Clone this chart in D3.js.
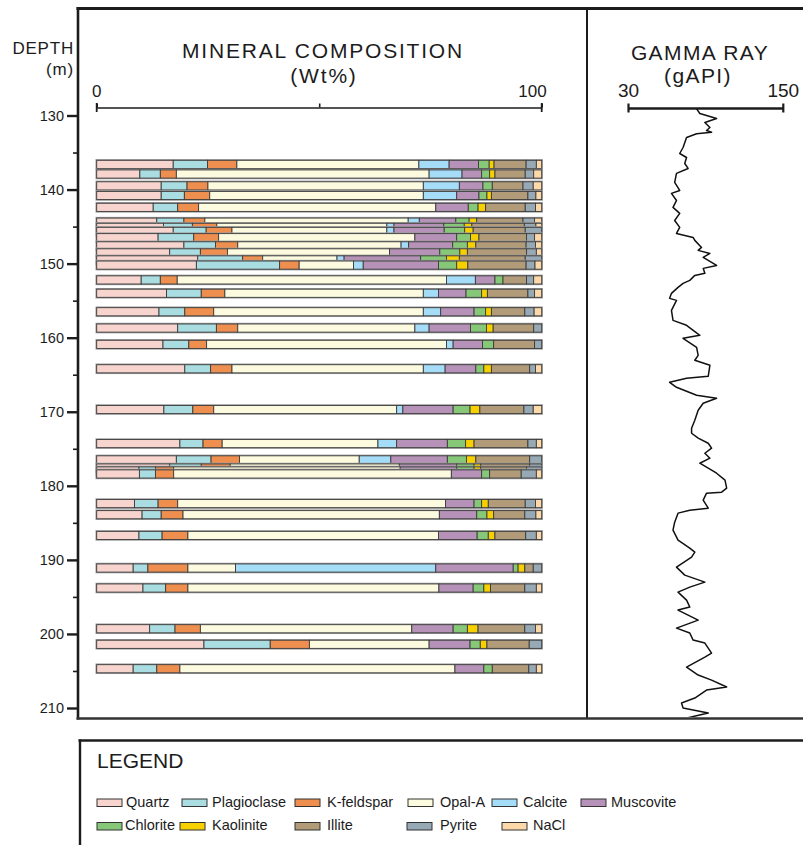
<!DOCTYPE html>
<html>
<head>
<meta charset="utf-8">
<script src="https://cdn.jsdelivr.net/npm/d3@7"></script>
<style>
  html, body { margin: 0; padding: 0; background: #fff; }
  svg { display: block; font-family: "Liberation Sans", Arial, sans-serif; }
</style>
</head>
<body>
<svg id="chart" width="803" height="845"></svg>
<script>
// Sample depths (m) — bar centre
const depths = [136.6,137.9,139.5,140.8,142.4,144.4,145.1,145.65,146.5,147.6,148.55,149.5,150.2,152.2,154.0,156.5,158.7,160.9,164.2,169.7,174.3,176.5,177.6,178.0,178.4,182.4,183.9,186.7,191.1,193.8,199.3,201.4,204.7];

// Mineral contents (Wt%) per sample
const quartz      = [17.2,9.7,14.5,14.5,12.7,13.5,15.0,17.2,13.8,19.6,16.4,22.7,22.4,10.0,15.7,14.0,18.2,14.9,19.8,15.1,18.7,17.9,16.4,9.5,9.6,8.5,10.2,9.5,8.2,10.4,11.9,24.1,8.2];
const plagioclase = [7.7,4.6,5.8,5.2,5.5,6.1,6.5,7.4,8.0,7.1,6.9,10.1,18.7,4.3,7.8,5.8,8.7,5.8,5.8,6.5,5.2,7.8,7.1,3.7,3.6,5.3,4.3,5.2,3.3,5.1,5.7,14.9,5.3];
const kfeldspar   = [6.6,3.6,4.7,5.7,4.7,4.7,5.5,5.8,5.6,5.0,6.1,4.5,4.4,3.8,5.3,6.5,4.8,4.0,4.8,4.7,4.3,6.4,6.5,4.1,4.1,4.4,4.9,5.8,9.0,5.0,5.7,8.8,5.2];
const opalA       = [40.9,56.8,48.4,48.0,53.3,45.7,38.2,34.8,44.1,36.7,36.4,16.7,12.2,60.5,44.6,47.1,39.8,53.9,43.0,41.1,35.0,26.9,38.0,50.9,62.4,60.2,57.6,56.3,10.7,56.4,47.5,26.9,61.8];
const calcite     = [6.8,7.4,8.1,7.5,0,2.5,1.6,1.6,0,1.7,0,1.6,2.2,6.5,3.4,3.9,3.2,1.5,4.9,1.4,4.2,7.1,0,0,0,0,0,0,45.0,0,0,0,0];
const muscovite   = [6.6,4.4,5.3,5.0,7.3,8.2,11.2,11.3,9.4,9.9,11.3,17.2,16.9,4.4,6.2,7.5,9.3,6.6,6.9,11.3,11.4,12.7,12.9,12.7,6.8,6.4,8.4,8.7,17.4,7.7,9.3,9.2,6.5];
const chlorite    = [2.4,1.8,2.1,1.8,2.2,3.0,4.6,4.6,3.1,3.3,4.5,5.8,4.1,1.8,3.5,2.6,3.6,2.5,1.8,3.8,4.1,4.3,3.9,3.9,1.8,1.7,2.3,2.5,1.1,2.4,3.2,2.3,1.9];
const kaolinite   = [1.1,1.2,0,1.0,1.7,1.7,1.7,1.9,1.9,1.9,1.7,2.9,2.5,0,1.3,1.3,1.5,0,1.7,2.2,1.9,2.1,1.5,1.5,0,1.5,1.5,1.5,1.5,1.5,2.4,1.5,0];
const illite      = [7.2,6.8,6.9,8.2,8.9,10.4,11.8,11.7,10.7,11.3,13.3,14.8,13.1,5.3,9.1,7.5,9.1,9.2,8.6,9.9,12.1,12.1,11.0,10.3,7.1,8.3,7.0,6.9,1.9,7.7,10.5,9.5,8.2];
const pyrite      = [2.3,1.9,2.3,1.8,2.3,2.6,2.6,3.7,1.8,2.1,2.2,3.7,2.0,1.6,1.5,2.1,1.8,1.6,1.3,2.1,1.9,2.7,2.7,3.4,3.4,2.3,2.5,2.4,1.9,2.6,2.4,2.8,1.7];
const nacl        = [1.2,1.8,1.9,1.3,1.4,1.6,1.3,0,1.6,1.4,1.2,0,1.5,1.8,1.6,1.7,0,0,1.4,1.9,1.2,0,0,0,1.2,1.4,1.3,1.2,0,1.2,1.4,0,1.2];

const mineralNames  = ["Quartz","Plagioclase","K-feldspar","Opal-A","Calcite","Muscovite","Chlorite","Kaolinite","Illite","Pyrite","NaCl"];
const mineralColors = ["#f8d4cf","#a9dde1","#ee8f50","#fcfbdf","#a5dcf8","#b692b8","#86c878","#f7d000","#b19b79","#97a9b5","#fdd9a9"];
const mineralValues = [quartz,plagioclase,kfeldspar,opalA,calcite,muscovite,chlorite,kaolinite,illite,pyrite,nacl];

// Gamma-ray log
const gammaDepth = [129.10,129.73,130.40,130.94,131.62,132.02,132.25,132.47,132.97,134.32,
  135.13,135.67,136.48,137.15,137.82,139.04,140.12,140.52,141.47,142.41,
  143.22,144.17,145.11,145.92,146.46,146.86,147.81,148.21,148.62,149.16,
  150.24,150.64,151.31,151.59,152.26,152.66,153.20,154.01,154.69,154.96,
  156.31,157.66,158.33,159.68,160.09,161.30,162.38,163.05,163.73,165.21,
  165.48,166.02,166.70,167.78,168.18,168.85,169.80,171.15,172.23,172.90,
  173.57,174.25,174.92,175.60,176.27,176.95,177.89,178.30,179.24,180.32,
  180.86,180.99,181.94,183.02,183.29,183.69,184.91,185.99,187.34,188.42,
  188.96,189.63,190.98,192.06,193.00,193.68,194.35,195.43,196.37,196.78,
  197.46,198.13,199.21,199.88,200.83,201.23,202.58,203.12,204.47,205.55,
  206.23,207.17,207.58,208.66,209.33,210.01,210.68,211.36];
const gammaValue = [82.8,85.3,98.3,89.2,93.1,90.5,94.4,82.8,75.0,72.3,
  69.7,75.0,73.6,76.2,67.2,65.8,69.7,63.3,67.2,64.5,
  69.7,65.8,69.7,67.2,80.1,81.4,86.6,84.0,93.1,87.9,
  98.3,87.9,89.2,81.4,77.5,72.3,68.4,63.3,61.9,67.2,
  63.3,64.5,75.0,85.3,72.3,82.8,84.0,81.4,93.1,91.8,
  75.0,61.9,67.2,82.8,98.3,87.9,84.0,81.4,78.9,78.9,
  84.0,91.8,94.4,89.2,93.1,85.3,94.4,98.3,104.8,106.1,
  102.2,90.5,87.9,91.8,77.5,68.4,65.8,64.5,68.4,77.5,
  81.4,78.9,67.2,73.6,89.2,77.5,68.4,75.0,77.5,68.4,
  76.2,84.0,67.2,77.5,80.1,89.2,94.4,89.2,75.0,84.0,
  94.4,106.1,90.5,81.4,71.1,72.3,91.8,75.0];

const depthTicks = [130,140,150,160,170,180,190,200,210];
const depthMinorTicks = [135,145,155,165,175,185,195,205];
const wtTicks = [0,50,100];
const gammaTicks = [30,150];

const barHeight = 1.1; // m

const svg = d3.select("#chart");
const ink = "#1c1c1c";

// Scales
const y = d3.scaleLinear().domain([130, 210]).range([115.5, 708]);
const x = d3.scaleLinear().domain([0, 100]).range([96.7, 541.7]);
const gx = d3.scaleLinear().domain([30, 150]).range([628.5, 783.3]);

// Frame
const frame = svg.append("g").attr("stroke", ink).attr("fill", "none");
frame.append("line").attr("x1", 76.5).attr("x2", 803).attr("y1", 8.5).attr("y2", 8.5).attr("stroke-width", 3);
frame.append("line").attr("x1", 78).attr("x2", 78).attr("y1", 7).attr("y2", 719.5).attr("stroke-width", 2.6);
frame.append("line").attr("x1", 587).attr("x2", 587).attr("y1", 8).attr("y2", 718).attr("stroke-width", 2);
frame.append("line").attr("x1", 76.5).attr("x2", 803).attr("y1", 718.5).attr("y2", 718.5).attr("stroke-width", 2.6).attr("stroke", "#333");

// Depth axis
svg.append("text").attr("x", 74).attr("y", 54).attr("text-anchor", "end")
  .attr("font-size", 17).attr("letter-spacing", 0.8).attr("fill", ink).text("DEPTH");
svg.append("text").attr("x", 74).attr("y", 75).attr("text-anchor", "end")
  .attr("font-size", 17).attr("letter-spacing", 0.8).attr("fill", ink).text("(m)");

const depthAxis = d3.axisLeft(y).tickValues(depthTicks).tickSize(10).tickPadding(3).tickFormat(d3.format("d"));
const gDepth = svg.append("g").attr("transform", "translate(77,0)").call(depthAxis);
gDepth.select(".domain").remove();
gDepth.selectAll(".tick line").attr("stroke", ink).attr("stroke-width", 2.4);
gDepth.selectAll(".tick text").attr("font-size", 14.5).attr("fill", ink)
  .attr("font-family", "'Liberation Sans', Arial, sans-serif");

const minorAxis = d3.axisLeft(y).tickValues(depthMinorTicks).tickSize(4).tickFormat("");
const gMinor = svg.append("g").attr("transform", "translate(77,0)").call(minorAxis);
gMinor.select(".domain").remove();
gMinor.selectAll(".tick line").attr("stroke", ink).attr("stroke-width", 1.6);

// Mineral composition header
svg.append("text").attr("x", 323).attr("y", 58).attr("text-anchor", "middle")
  .attr("font-size", 21).attr("letter-spacing", 1.8).attr("fill", ink).text("MINERAL COMPOSITION");
svg.append("text").attr("x", 324).attr("y", 83).attr("text-anchor", "middle")
  .attr("font-size", 21).attr("letter-spacing", 1.8).attr("fill", ink).text("(Wt%)");

const wtAxis = d3.axisTop(x).tickValues(wtTicks).tickSize(4).tickSizeOuter(0).tickFormat("");
const gWt = svg.append("g").attr("transform", "translate(0,107.5)").call(wtAxis);
gWt.select(".domain").attr("stroke", ink).attr("stroke-width", 1.6);
gWt.selectAll(".tick line").attr("stroke", ink).attr("stroke-width", 1.6);
svg.append("g").selectAll("line").data([0, 100]).join("line")
  .attr("x1", d => x(d)).attr("x2", d => x(d)).attr("y1", 103).attr("y2", 112)
  .attr("stroke", ink).attr("stroke-width", 1.8);
svg.append("g").selectAll("text").data([0, 100]).join("text")
  .attr("x", d => d === 0 ? x(d) : x(d) + 5)
  .attr("y", 97).attr("text-anchor", d => d === 0 ? "middle" : "end")
  .attr("font-size", 17).attr("fill", ink).text(d => d);

// Stacked bars
const rows = depths.map((d, i) => {
  const r = { depth: d };
  mineralNames.forEach((m, k) => { r[m] = mineralValues[k][i]; });
  return r;
});
const stacked = d3.stack().keys(mineralNames)(rows);
const color = d3.scaleOrdinal().domain(mineralNames).range(mineralColors);

const bars = svg.append("g").selectAll("g.sample").data(rows).join("g").attr("class", "sample");
bars.each(function (row, i) {
  const g = d3.select(this);
  const top = y(row.depth - barHeight / 2);
  const h = y(row.depth + barHeight / 2) - top;
  g.append("rect")
    .attr("x", x(0) - 1.2).attr("y", top - 1.2)
    .attr("width", x(100) - x(0) + 2.4).attr("height", h + 2.4)
    .attr("fill", "#9a9a9a");
  const segs = stacked.map(layer => ({ key: layer.key, s0: layer[i][0], s1: layer[i][1] }))
    .filter(s => s.s1 - s.s0 > 0);
  g.selectAll("rect.seg").data(segs).join("rect").attr("class", "seg")
    .attr("x", s => x(s.s0)).attr("y", top)
    .attr("width", s => x(s.s1) - x(s.s0)).attr("height", h)
    .attr("fill", s => color(s.key))
    .attr("stroke", "#3c3c3c").attr("stroke-width", 0.9);
});

// Gamma ray header
svg.append("text").attr("x", 700).attr("y", 60).attr("text-anchor", "middle")
  .attr("font-size", 21).attr("letter-spacing", 1.4).attr("fill", ink).text("GAMMA RAY");
svg.append("text").attr("x", 698).attr("y", 83).attr("text-anchor", "middle")
  .attr("font-size", 21).attr("letter-spacing", 1.4).attr("fill", ink).text("(gAPI)");

const gAxis = d3.axisTop(gx).tickValues(gammaTicks).tickSize(0).tickSizeOuter(0).tickFormat("");
const gG = svg.append("g").attr("transform", "translate(0,108)").call(gAxis);
gG.select(".domain").attr("stroke", ink).attr("stroke-width", 2.6);
svg.append("g").selectAll("line").data(gammaTicks).join("line")
  .attr("x1", d => gx(d)).attr("x2", d => gx(d)).attr("y1", 103.5).attr("y2", 112.5)
  .attr("stroke", ink).attr("stroke-width", 2.2);
svg.append("g").selectAll("text").data(gammaTicks).join("text")
  .attr("x", d => gx(d)).attr("y", 97).attr("text-anchor", "middle")
  .attr("font-size", 19).attr("fill", ink).text(d => d);

svg.append("clipPath").attr("id", "grClip").append("rect")
  .attr("x", 588).attr("y", 106).attr("width", 215).attr("height", 611);
const gammaPts = gammaDepth.map((d, i) => [d, gammaValue[i]]);
svg.append("path").datum(gammaPts)
  .attr("clip-path", "url(#grClip)")
  .attr("fill", "none").attr("stroke", "#111").attr("stroke-width", 1.5)
  .attr("stroke-linejoin", "round")
  .attr("d", d3.line().x(p => gx(p[1])).y(p => y(p[0])));

// Legend
const lg = svg.append("g");
lg.append("line").attr("x1", 78.5).attr("x2", 803).attr("y1", 740.5).attr("y2", 740.5).attr("stroke", ink).attr("stroke-width", 2.4);
lg.append("line").attr("x1", 80).attr("x2", 80).attr("y1", 739.5).attr("y2", 845).attr("stroke", ink).attr("stroke-width", 2.4);
lg.append("text").attr("x", 97).attr("y", 768).attr("font-size", 21).attr("fill", ink).text("LEGEND");

const legendSwatchX = [97, 182, 295, 408, 492, 581, 97, 180, 295, 407, 502];
const legendTextX   = [126, 212, 327, 440, 523, 611, 125, 212, 327, 440, 533];
const legendRowY    = [0, 0, 0, 0, 0, 0, 1, 1, 1, 1, 1];
const rowBase = [806.5, 830];

const items = lg.selectAll("g.item").data(mineralNames).join("g").attr("class", "item");
items.append("rect")
  .attr("x", (d, i) => legendSwatchX[i]).attr("y", (d, i) => rowBase[legendRowY[i]] - 7.5)
  .attr("width", 25).attr("height", 7.5)
  .attr("fill", d => color(d)).attr("stroke", "#333").attr("stroke-width", 1);
items.append("text")
  .attr("x", (d, i) => legendTextX[i]).attr("y", (d, i) => rowBase[legendRowY[i]])
  .attr("font-size", 14.5).attr("fill", ink).text(d => d);
</script>
</body>
</html>
